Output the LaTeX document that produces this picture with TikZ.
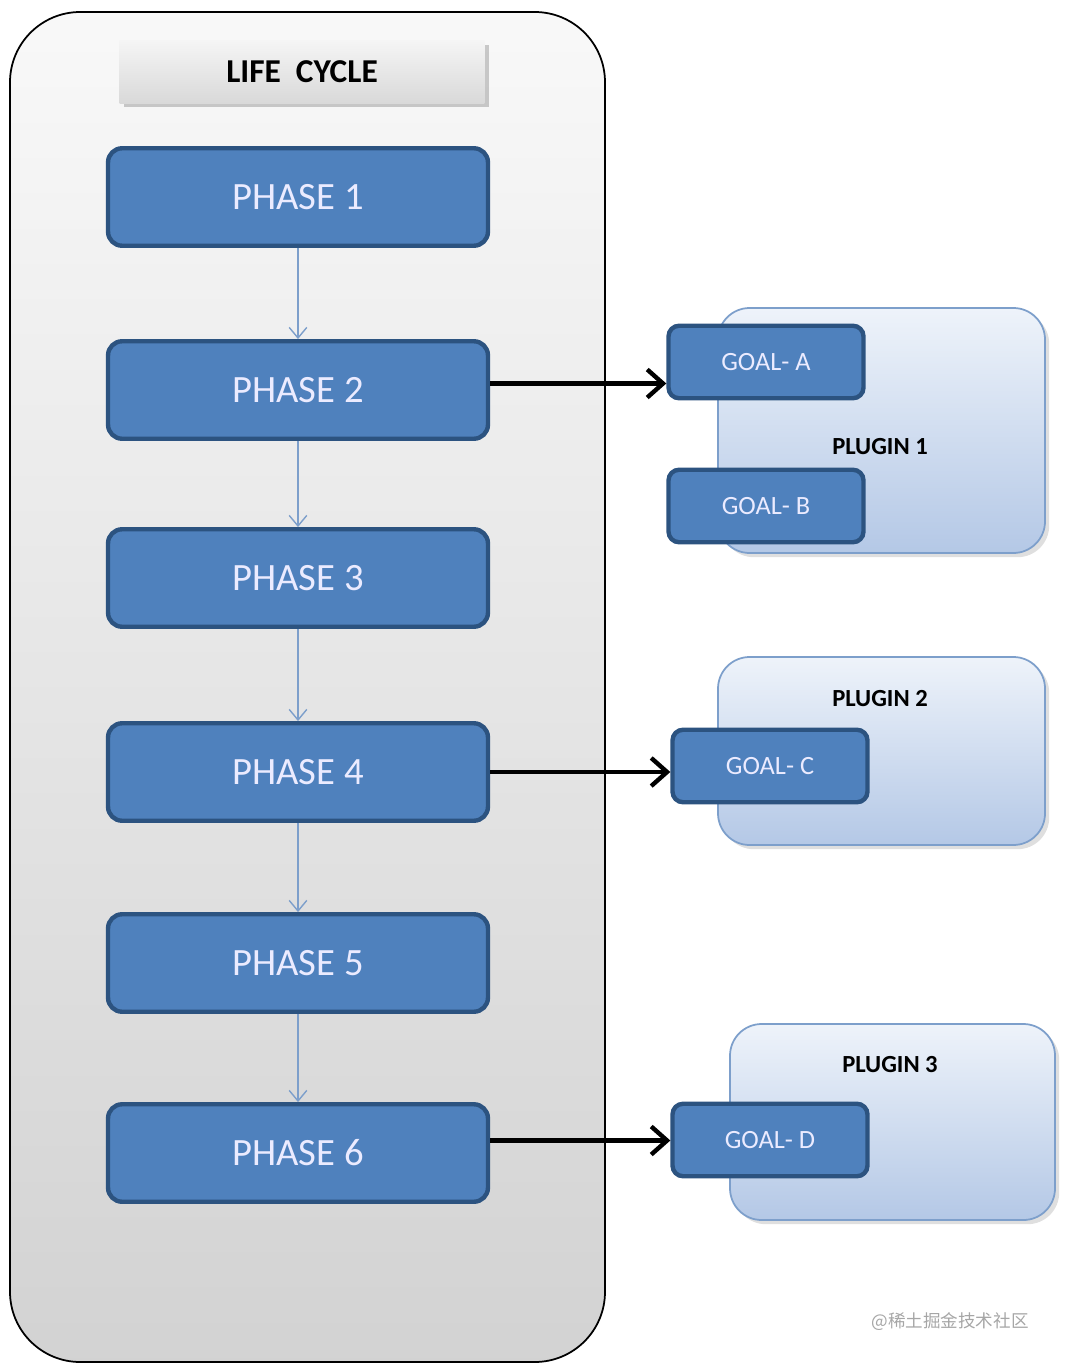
\documentclass[tikz,border=0pt]{standalone}
\usepackage{fontspec}
\setmainfont{Carlito}
\newfontfamily\cjk{Noto Sans CJK SC}
\usetikzlibrary{arrows.meta,shadows}
\definecolor{phasefill}{HTML}{4F81BD}
\definecolor{phaseline}{HTML}{2C5380}
\definecolor{pluginline}{HTML}{7D9FCB}
\definecolor{plugintop}{HTML}{EEF3FA}
\definecolor{pluginbot}{HTML}{B4C8E6}
\tikzset{
  phase/.style={draw=phaseline, line width=2.5pt, fill=phasefill, rounded corners=8pt,
    minimum width=7.6cm, minimum height=1.95cm, text=white!92!blue, font=\fontsize{22}{24}\selectfont},
  goal/.style={draw=phaseline, line width=2.5pt, fill=phasefill, rounded corners=6pt,
    minimum width=3.9cm, minimum height=1.45cm, text=white!92!blue, font=\fontsize{15}{17}\selectfont},
  plugin/.style={draw=pluginline, line width=1pt, rounded corners=18pt, top color=plugintop, bottom color=pluginbot,
    drop shadow={opacity=0.25}},
  flow/.style={-{Straight Barb[length=6pt,width=10pt]}, draw=pluginline, line width=0.8pt},
  call/.style={-{Straight Barb[length=9pt,width=16pt]}, line width=2.5pt}
}
\begin{document}
\begin{tikzpicture}[x=0.02cm,y=-0.02cm]
  \useasboundingbox (0,0) rectangle (1065,1365);
  % life cycle frame
  \draw[line width=1pt, rounded corners=40pt, top color=gray!5, bottom color=gray!35] (10,12) rectangle (605,1362);
  \node[minimum width=7.3cm, minimum height=1.25cm, top color=gray!8, bottom color=gray!30,
    drop shadow={opacity=0.4}, font=\bfseries\fontsize{19}{21}\selectfont] (title) at (302,72) {LIFE\ \ CYCLE};
  % phases
  \node[phase] (p1) at (298,197) {PHASE 1};
  \node[phase] (p2) at (298,390) {PHASE 2};
  \node[phase] (p3) at (298,578) {PHASE 3};
  \node[phase] (p4) at (298,772) {PHASE 4};
  \node[phase] (p5) at (298,963) {PHASE 5};
  \node[phase] (p6) at (298,1153) {PHASE 6};
  \foreach \a/\b in {p1/p2,p2/p3,p3/p4,p4/p5,p5/p6}
    \draw[flow] (\a) -- (\b);
  % plugins
  \draw[plugin] (718,308) rectangle (1045,553);
  \draw[plugin] (718,657) rectangle (1045,845);
  \draw[plugin] (730,1024) rectangle (1055,1220);
  \node[font=\bfseries\fontsize{14}{16}\selectfont] (l1) at (880,447) {PLUGIN 1};
  \node[font=\bfseries\fontsize{14}{16}\selectfont] (l2) at (880,699) {PLUGIN 2};
  \node[font=\bfseries\fontsize{14}{16}\selectfont] (l3) at (890,1065) {PLUGIN 3};
  \node[goal] (ga) at (766,362) {GOAL- A};
  \node[goal] (gb) at (766,506) {GOAL- B};
  \node[goal] (gc) at (770,766) {GOAL- C};
  \node[goal] (gd) at (770,1140) {GOAL- D};
  \draw[call] ([yshift=0.13cm]p2.east) -- ([yshift=0.13cm]p2.east -| ga.west);
  \draw[call] (p4.east -| p2.east) -- (p4.east -| gc.west);
  \draw[call] ([yshift=0.25cm]p6.east) -- ([yshift=0.25cm]p6.east -| gd.west);
  \node[text=gray!70, font=\cjk\fontsize{10}{12}\selectfont] (wm) at (950,1322) {@稀土掘金技术社区};
\end{tikzpicture}
\end{document}
